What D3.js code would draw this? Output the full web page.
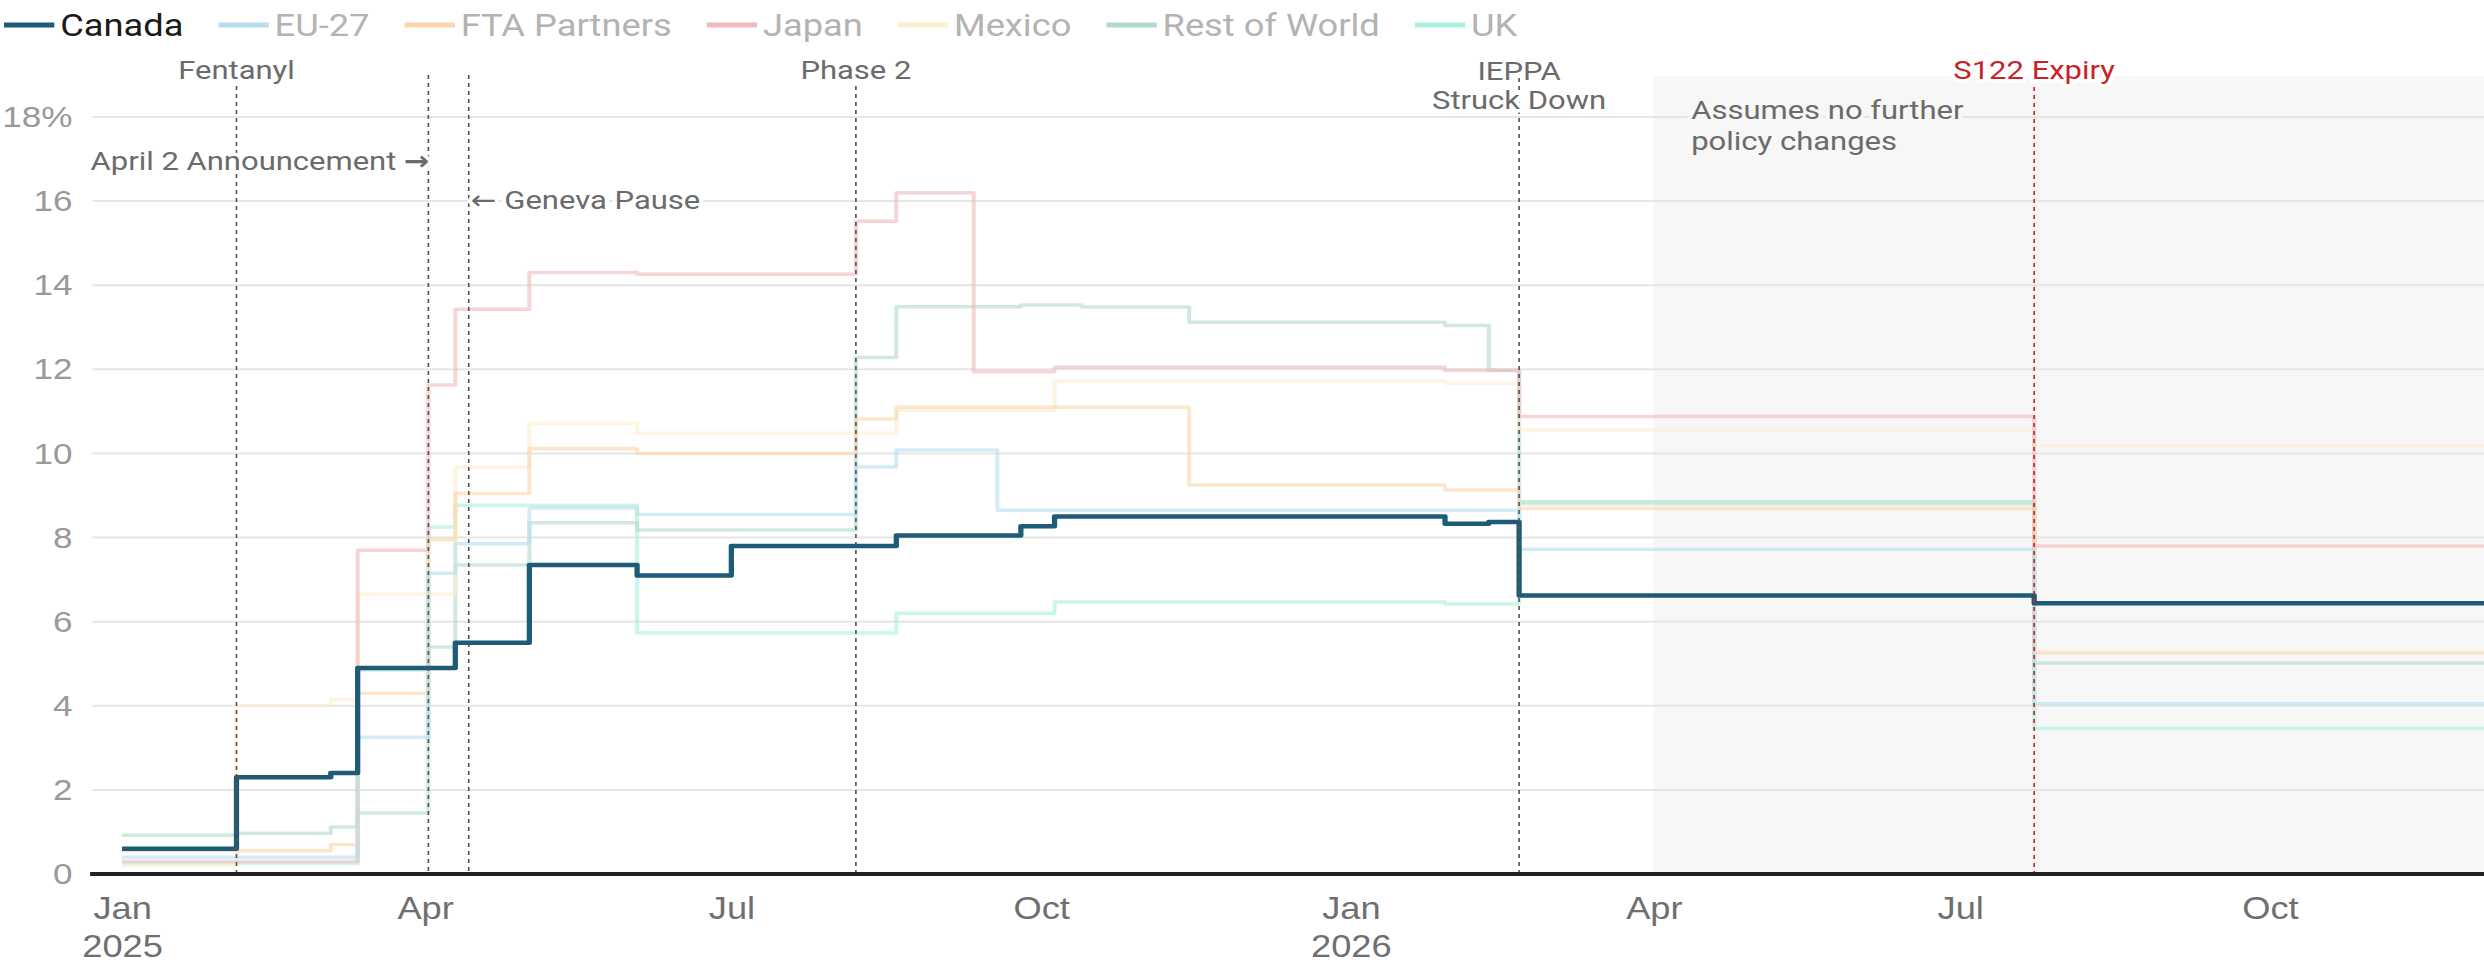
<!DOCTYPE html>
<html>
<head>
<meta charset="utf-8">
<script src="https://cdn.jsdelivr.net/npm/d3@7"></script>
<style>
  html, body { margin: 0; padding: 0; background: #fff; }
  svg { display: block; font-family: Roboto, "Noto Sans", sans-serif; }
</style>
</head>
<body>
<svg id="chart"></svg>
<script>
// effective tariff rate (%) by partner, value holds from each date until the next one
var canada = [
  ["2025-01-01", 0.6], ["2025-02-04", 2.3], ["2025-03-04", 2.4], ["2025-03-12", 4.9],
  ["2025-04-10", 5.5], ["2025-05-02", 7.35], ["2025-06-03", 7.1], ["2025-07-01", 7.8],
  ["2025-08-19", 8.05], ["2025-09-25", 8.27], ["2025-10-05", 8.5], ["2026-01-29", 8.33],
  ["2026-02-11", 8.37], ["2026-02-20", 6.62], ["2026-07-23", 6.44]
];
var eu27 = [
  ["2025-01-01", 0.4], ["2025-03-12", 3.25], ["2025-04-02", 7.15], ["2025-04-10", 7.85],
  ["2025-05-02", 8.7], ["2025-06-03", 8.55], ["2025-08-07", 9.68], ["2025-08-19", 10.08],
  ["2025-09-18", 8.65], ["2026-02-20", 7.72], ["2026-07-23", 4.05]
];
var ftaPartners = [
  ["2025-01-01", 0.55], ["2025-03-04", 0.7], ["2025-03-12", 4.3], ["2025-04-02", 7.95],
  ["2025-04-10", 9.05], ["2025-05-02", 10.12], ["2025-06-03", 10.0], ["2025-08-07", 10.82],
  ["2025-08-19", 11.1], ["2025-11-14", 9.25], ["2026-01-29", 9.13], ["2026-02-20", 8.69],
  ["2026-07-23", 5.26]
];
var japan = [
  ["2025-01-01", 0.3], ["2025-03-12", 7.7], ["2025-04-02", 11.63], ["2025-04-10", 13.43],
  ["2025-05-02", 14.3], ["2025-06-03", 14.26], ["2025-08-07", 15.52], ["2025-08-19", 16.2],
  ["2025-09-11", 11.94], ["2025-10-05", 12.05], ["2026-01-29", 11.97], ["2026-02-20", 10.88],
  ["2026-07-23", 7.8]
];
var mexico = [
  ["2025-01-01", 0.2], ["2025-02-04", 4.0], ["2025-03-04", 4.15], ["2025-03-12", 6.65],
  ["2025-04-10", 9.68], ["2025-05-02", 10.72], ["2025-06-03", 10.48], ["2025-08-19", 11.03],
  ["2025-10-05", 11.72], ["2026-01-29", 11.67], ["2026-02-20", 10.56], ["2026-07-23", 10.18]
];
var restOfWorld = [
  ["2025-01-01", 0.92], ["2025-02-04", 0.97], ["2025-03-04", 1.12], ["2025-03-12", 1.45],
  ["2025-04-02", 5.4], ["2025-04-10", 7.35], ["2025-05-02", 8.35], ["2025-06-03", 8.18],
  ["2025-08-07", 12.28], ["2025-08-19", 13.49], ["2025-09-25", 13.53], ["2025-10-13", 13.48],
  ["2025-11-14", 13.12], ["2026-01-29", 13.04], ["2026-02-11", 11.98], ["2026-02-20", 8.85],
  ["2026-07-23", 5.02]
];
var uk = [
  ["2025-01-01", 0.25], ["2025-03-12", 4.85], ["2025-04-02", 8.25], ["2025-04-10", 8.77],
  ["2025-06-03", 5.73], ["2025-08-19", 6.2], ["2025-10-05", 6.47], ["2026-01-29", 6.42],
  ["2026-02-20", 8.8], ["2026-07-23", 3.46]
];
var lastDate = "2026-12-31";

var seriesNames = ["Canada", "EU-27", "FTA Partners", "Japan", "Mexico", "Rest of World", "UK"];
var seriesData = [canada, eu27, ftaPartners, japan, mexico, restOfWorld, uk];
var seriesColors = ["#1d5b78", "#b6ddf0", "#fcd5aa", "#f0b9bb", "#fcefcf", "#b0dacb", "#aaefe0"];

var yTicks = [0, 2, 4, 6, 8, 10, 12, 14, 16, 18];

var eventDates = ["2025-02-04", "2025-04-02", "2025-04-14", "2025-08-07", "2026-02-20", "2026-07-23"];
var eventLabels = [["Fentanyl"], ["April 2 Announcement"], ["Geneva Pause"], ["Phase 2"], ["IEPPA", "Struck Down"], ["S122 Expiry"]];
var projectionStart = "2026-04-01";
var projectionNote = ["Assumes no further", "policy changes"];

// the picture is horizontally stretched, so draw in a narrower box and stretch it
var STRETCH = 1.17;
var W = 2484 / STRETCH, H = 966;
var left = 77, right = W, zeroY = 874;

var parse = d3.utcParse("%Y-%m-%d");

var x = d3.scaleUtc()
  .domain([parse("2025-01-01"), parse("2026-10-01")])
  .range([104.3, 1940]);
var y = d3.scaleLinear().domain([0, 18]).range([zeroY, 117]);

var svg = d3.select("#chart")
  .attr("width", 2484).attr("height", H)
  .attr("viewBox", "0 0 " + W + " " + H)
  .attr("preserveAspectRatio", "none");

svg.append("defs").append("clipPath").attr("id", "plot")
  .append("rect").attr("x", left).attr("y", 0).attr("width", right - left).attr("height", zeroY);

// projection shading
var shadeX = x(parse(projectionStart));
svg.append("rect")
  .attr("x", shadeX).attr("y", 76)
  .attr("width", right - shadeX).attr("height", zeroY - 76)
  .attr("fill", "#f7f7f7");

// gridlines
svg.append("g").selectAll("line")
  .data(yTicks.filter(function(d) { return d > 0; }))
  .join("line")
  .attr("x1", left + 2).attr("x2", right)
  .attr("y1", function(d) { return y(d); }).attr("y2", function(d) { return y(d); })
  .attr("stroke", "#e6e6e6").attr("stroke-width", 2);

// y axis labels
var yAxis = svg.append("g").attr("transform", "translate(" + left + ",0)")
  .call(d3.axisLeft(y).tickValues(yTicks).tickSize(0).tickPadding(15)
    .tickFormat(function(d) { return d === 18 ? "18%" : d; }));
yAxis.select(".domain").remove();
yAxis.selectAll("text").attr("font-size", 30).attr("fill", "#999").attr("font-family", null);

// x axis labels
var xAxis = svg.append("g").attr("transform", "translate(0," + zeroY + ")")
  .call(d3.axisBottom(x).ticks(d3.utcMonth.every(3)).tickSize(0).tickFormat(d3.utcFormat("%b")));
xAxis.select(".domain").remove();
xAxis.selectAll("text")
  .attr("font-size", 31).attr("fill", "#6f6f6f").attr("font-family", null)
  .attr("y", 45).attr("dy", 0)
  .each(function(d) {
    if (d.getUTCMonth() === 0) {
      d3.select(this).append("tspan")
        .attr("x", 0).attr("dy", 38)
        .text(d.getUTCFullYear());
    }
  });

// series
var line = d3.line()
  .x(function(d) { return x(parse(d[0])); })
  .y(function(d) { return y(d[1]); })
  .curve(d3.curveStepAfter);

var lines = svg.append("g").attr("clip-path", "url(#plot)");
for (var i = seriesData.length - 1; i >= 1; i--) {
  var pts = seriesData[i].concat([[lastDate, seriesData[i][seriesData[i].length - 1][1]]]);
  lines.append("path")
    .attr("d", line(pts))
    .attr("fill", "none")
    .attr("stroke", seriesColors[i])
    .attr("stroke-width", 3.5)
    .attr("stroke-linejoin", "round")
    .attr("stroke-opacity", 0.6);
}
lines.append("path")
  .attr("d", line(canada.concat([[lastDate, canada[canada.length - 1][1]]])))
  .attr("fill", "none")
  .attr("stroke", seriesColors[0])
  .attr("stroke-width", 4.5)
  .attr("stroke-linejoin", "round");

// zero line
svg.append("line")
  .attr("x1", left).attr("x2", right)
  .attr("y1", zeroY).attr("y2", zeroY)
  .attr("stroke", "#222").attr("stroke-width", 4);

// event markers
var lineTops = [86, 75, 75, 86, 78, 87];
var eventColor = ["#555", "#555", "#555", "#555", "#555", "#cc2229"];
var textColor = ["#6b6b6b", "#6b6b6b", "#6b6b6b", "#6b6b6b", "#6b6b6b", "#c8232b"];

var ev = svg.append("g");
eventDates.forEach(function(d, k) {
  var ex = x(parse(d));
  ev.append("line")
    .attr("x1", ex).attr("x2", ex)
    .attr("y1", lineTops[k]).attr("y2", zeroY - 2)
    .attr("stroke", eventColor[k]).attr("stroke-width", 1.4)
    .attr("stroke-dasharray", "4 4");
});

function halo(sel, bg) {
  return sel.attr("stroke", bg).attr("stroke-width", 7)
    .attr("stroke-linejoin", "round").attr("paint-order", "stroke");
}

eventDates.forEach(function(d, k) {
  var ex = x(parse(d));
  var anchor = "middle", tx = ex, ty = 79;
  if (k === 1) { anchor = "end"; tx = ex + 1; ty = 170; }
  if (k === 2) { anchor = "start"; tx = ex + 2; ty = 209; }
  if (k === 4) { ty = 80; }
  eventLabels[k].forEach(function(s, j) {
    var t = halo(ev.append("text"), "#fff")
      .attr("x", tx).attr("y", ty + j * 29)
      .attr("text-anchor", anchor)
      .attr("font-size", 26.5)
      .attr("fill", textColor[k]);
    if (k === 2) {
      t.append("tspan").attr("font-family", "DejaVu Sans").attr("font-size", 26).text("\u2190");
      t.append("tspan").text(" " + s);
    } else if (k === 1) {
      t.append("tspan").text(s + " ");
      t.append("tspan").attr("font-family", "DejaVu Sans").attr("font-weight", "bold")
        .attr("font-size", 26).text("\u2192");
    } else {
      t.text(s);
    }
  });
});

projectionNote.forEach(function(s, j) {
  halo(ev.append("text"), "#f7f7f7")
    .attr("x", shadeX + 32).attr("y", 119 + j * 31)
    .attr("font-size", 26.5).attr("fill", "#6b6b6b")
    .text(s);
});

// legend
var legend = svg.append("g");
var lx = 3.4;
seriesNames.forEach(function(name, i) {
  legend.append("line")
    .attr("x1", lx).attr("x2", lx + 43)
    .attr("y1", 25).attr("y2", 25)
    .attr("stroke", seriesColors[i]).attr("stroke-width", 5);
  var t = legend.append("text")
    .attr("x", lx + 48).attr("y", 36)
    .attr("font-size", 31)
    .attr("fill", i === 0 ? "#1a1a1a" : "#b3b3b3")
    .text(name);
  lx = lx + 48 + t.node().getComputedTextLength() + 30;
});
</script>
</body>
</html>
